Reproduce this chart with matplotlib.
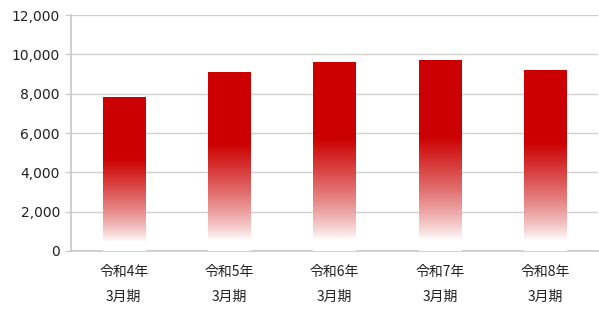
import matplotlib
matplotlib.use("Agg")
import matplotlib.pyplot as plt
import numpy as np
from matplotlib.ticker import FuncFormatter

plt.rcParams['font.family'] = ['Verdana', 'DejaVu Sans', 'Noto Sans CJK JP']

categories = ["令和4年\n3月期", "令和5年\n3月期", "令和6年\n3月期", "令和7年\n3月期", "令和8年\n3月期"]
values = [7830, 9100, 9610, 9710, 9200]
y_ticks = [0, 2000, 4000, 6000, 8000, 10000, 12000]

red = np.array([0.80, 0.0, 0.0])
white = np.array([1.0, 1.0, 1.0])

fig = plt.figure(figsize=(5.99, 3.18), dpi=100)
ax = fig.add_axes([71 / 599, 1 - 251 / 318, 527 / 599, 236 / 318])

x = np.arange(len(categories))
bars = ax.bar(x, values, width=0.4, color="none", edgecolor="none", zorder=3)

# vertical gradient: white at the bottom, full red from ~60% of bar height
n = 256
t = np.linspace(0, 1, n)
f = np.clip((t - 0.06) / (0.60 - 0.06), 0, 1) ** 0.8
cols = white[None, :] * (1 - f[:, None]) + red[None, :] * f[:, None]
grad = cols[:, None, :]

for b in bars:
    x0, w, h = b.get_x(), b.get_width(), b.get_height()
    im = ax.imshow(grad, extent=[x0, x0 + w, 0, h], origin="lower",
                   aspect="auto", zorder=3, interpolation="bilinear")
    im.set_clip_path(b)

ax.set_xlim(-0.5, len(categories) - 0.5)
ax.set_ylim(0, 12000)
ax.set_yticks(y_ticks)
ax.yaxis.set_major_formatter(FuncFormatter(lambda v, p: "{:,.0f}".format(v)))
ax.set_xticks(x)
ax.set_xticklabels(categories, family=['Noto Sans CJK JP', 'DejaVu Sans'],
                   fontsize=10, linespacing=2.0, color="#222222")

ax.grid(axis="y", color="#d0d0d0", linewidth=1, zorder=0)
for s in ["top", "right"]:
    ax.spines[s].set_visible(False)
ax.spines["left"].set_color("#c8c8c8")
ax.spines["bottom"].set_color("#c8c8c8")
ax.spines["left"].set_linewidth(1.2)
ax.spines["bottom"].set_linewidth(1.2)
ax.tick_params(axis="y", length=4, color="#c8c8c8", labelsize=10, pad=4, labelcolor="#222222")
ax.tick_params(axis="x", length=0, pad=10)

fig.savefig("out.png", dpi=100)
